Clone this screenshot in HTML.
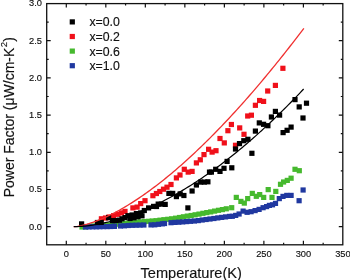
<!DOCTYPE html><html><head><meta charset="utf-8"><style>html,body{margin:0;padding:0;background:#fff;}svg{display:block;will-change:transform;}text{font-family:"Liberation Sans",sans-serif;fill:#111;stroke:#111;stroke-width:0.15px;}</style></head><body>
<svg width="350" height="280" viewBox="0 0 350 280">
<g fill="#46b92e"><rect x="79.4" y="224.4" width="5.2" height="5.2"/><rect x="83.3" y="224.1" width="5.2" height="5.2"/><rect x="87.2" y="223.8" width="5.2" height="5.2"/><rect x="91.1" y="223.4" width="5.2" height="5.2"/><rect x="95.0" y="223.1" width="5.2" height="5.2"/><rect x="98.9" y="222.8" width="5.2" height="5.2"/><rect x="102.8" y="222.5" width="5.2" height="5.2"/><rect x="106.7" y="222.2" width="5.2" height="5.2"/><rect x="110.6" y="221.9" width="5.2" height="5.2"/><rect x="114.5" y="221.6" width="5.2" height="5.2"/><rect x="118.4" y="221.3" width="5.2" height="5.2"/><rect x="122.3" y="220.8" width="5.2" height="5.2"/><rect x="126.2" y="220.4" width="5.2" height="5.2"/><rect x="130.1" y="220.0" width="5.2" height="5.2"/><rect x="134.0" y="219.6" width="5.2" height="5.2"/><rect x="137.9" y="219.3" width="5.2" height="5.2"/><rect x="141.8" y="219.0" width="5.2" height="5.2"/><rect x="145.7" y="218.7" width="5.2" height="5.2"/><rect x="149.6" y="218.4" width="5.2" height="5.2"/><rect x="153.5" y="218.1" width="5.2" height="5.2"/><rect x="157.4" y="217.6" width="5.2" height="5.2"/><rect x="161.3" y="217.1" width="5.2" height="5.2"/><rect x="165.2" y="216.7" width="5.2" height="5.2"/><rect x="169.1" y="216.2" width="5.2" height="5.2"/><rect x="173.0" y="215.6" width="5.2" height="5.2"/><rect x="176.9" y="214.9" width="5.2" height="5.2"/><rect x="180.8" y="214.2" width="5.2" height="5.2"/><rect x="184.7" y="213.5" width="5.2" height="5.2"/><rect x="188.6" y="212.9" width="5.2" height="5.2"/><rect x="192.5" y="212.2" width="5.2" height="5.2"/><rect x="196.4" y="211.5" width="5.2" height="5.2"/><rect x="200.3" y="210.7" width="5.2" height="5.2"/><rect x="204.2" y="210.0" width="5.2" height="5.2"/><rect x="208.1" y="209.3" width="5.2" height="5.2"/><rect x="212.0" y="208.5" width="5.2" height="5.2"/><rect x="215.9" y="207.7" width="5.2" height="5.2"/><rect x="219.8" y="207.0" width="5.2" height="5.2"/><rect x="223.7" y="206.2" width="5.2" height="5.2"/><rect x="229.1" y="205.1" width="5.2" height="5.2"/><rect x="233.7" y="194.8" width="5.2" height="5.2"/><rect x="238.3" y="198.8" width="5.2" height="5.2"/><rect x="241.7" y="200.5" width="5.2" height="5.2"/><rect x="245.1" y="196.0" width="5.2" height="5.2"/><rect x="249.7" y="190.8" width="5.2" height="5.2"/><rect x="253.7" y="193.7" width="5.2" height="5.2"/><rect x="257.1" y="192.0" width="5.2" height="5.2"/><rect x="261.1" y="194.8" width="5.2" height="5.2"/><rect x="265.6" y="187.0" width="5.2" height="5.2"/><rect x="269.4" y="194.8" width="5.2" height="5.2"/><rect x="273.2" y="188.8" width="5.2" height="5.2"/><rect x="277.9" y="181.7" width="5.2" height="5.2"/><rect x="281.0" y="179.4" width="5.2" height="5.2"/><rect x="284.7" y="177.8" width="5.2" height="5.2"/><rect x="288.5" y="175.6" width="5.2" height="5.2"/><rect x="292.4" y="166.7" width="5.2" height="5.2"/><rect x="296.7" y="168.1" width="5.2" height="5.2"/></g>
<g fill="#2038a0"><rect x="82.9" y="224.4" width="5.2" height="5.2"/><rect x="86.5" y="224.3" width="5.2" height="5.2"/><rect x="90.1" y="224.2" width="5.2" height="5.2"/><rect x="93.7" y="224.2" width="5.2" height="5.2"/><rect x="97.3" y="224.1" width="5.2" height="5.2"/><rect x="100.9" y="224.0" width="5.2" height="5.2"/><rect x="104.5" y="224.0" width="5.2" height="5.2"/><rect x="108.1" y="223.9" width="5.2" height="5.2"/><rect x="111.7" y="223.7" width="5.2" height="5.2"/><rect x="111.7" y="223.7" width="5.2" height="5.2"/><rect x="117.9" y="223.4" width="5.2" height="5.2"/><rect x="121.8" y="223.2" width="5.2" height="5.2"/><rect x="125.7" y="222.9" width="5.2" height="5.2"/><rect x="129.6" y="222.7" width="5.2" height="5.2"/><rect x="133.5" y="222.6" width="5.2" height="5.2"/><rect x="137.4" y="222.5" width="5.2" height="5.2"/><rect x="141.3" y="222.4" width="5.2" height="5.2"/><rect x="148.4" y="222.3" width="5.2" height="5.2"/><rect x="152.2" y="222.2" width="5.2" height="5.2"/><rect x="156.0" y="221.7" width="5.2" height="5.2"/><rect x="159.8" y="221.2" width="5.2" height="5.2"/><rect x="161.9" y="220.9" width="5.2" height="5.2"/><rect x="168.4" y="220.1" width="5.2" height="5.2"/><rect x="172.3" y="219.8" width="5.2" height="5.2"/><rect x="176.2" y="219.6" width="5.2" height="5.2"/><rect x="180.1" y="219.3" width="5.2" height="5.2"/><rect x="184.0" y="219.0" width="5.2" height="5.2"/><rect x="187.9" y="218.7" width="5.2" height="5.2"/><rect x="191.8" y="218.4" width="5.2" height="5.2"/><rect x="195.7" y="218.0" width="5.2" height="5.2"/><rect x="199.6" y="217.4" width="5.2" height="5.2"/><rect x="203.5" y="216.9" width="5.2" height="5.2"/><rect x="207.4" y="216.4" width="5.2" height="5.2"/><rect x="211.3" y="215.9" width="5.2" height="5.2"/><rect x="215.2" y="215.3" width="5.2" height="5.2"/><rect x="219.1" y="214.8" width="5.2" height="5.2"/><rect x="223.0" y="214.3" width="5.2" height="5.2"/><rect x="226.9" y="213.8" width="5.2" height="5.2"/><rect x="229.7" y="213.7" width="5.2" height="5.2"/><rect x="233.1" y="212.8" width="5.2" height="5.2"/><rect x="236.5" y="211.4" width="5.2" height="5.2"/><rect x="240.5" y="208.5" width="5.2" height="5.2"/><rect x="244.5" y="209.7" width="5.2" height="5.2"/><rect x="248.5" y="209.1" width="5.2" height="5.2"/><rect x="252.5" y="208.0" width="5.2" height="5.2"/><rect x="256.5" y="206.8" width="5.2" height="5.2"/><rect x="260.5" y="205.1" width="5.2" height="5.2"/><rect x="264.0" y="204.0" width="5.2" height="5.2"/><rect x="266.8" y="202.8" width="5.2" height="5.2"/><rect x="269.9" y="202.2" width="5.2" height="5.2"/><rect x="272.9" y="200.8" width="5.2" height="5.2"/><rect x="276.7" y="196.0" width="5.2" height="5.2"/><rect x="280.4" y="193.8" width="5.2" height="5.2"/><rect x="284.2" y="192.8" width="5.2" height="5.2"/><rect x="288.5" y="192.8" width="5.2" height="5.2"/><rect x="296.5" y="198.1" width="5.2" height="5.2"/><rect x="300.5" y="187.4" width="5.2" height="5.2"/></g>
<g fill="#f0101a"><rect x="98.8" y="216.2" width="5.2" height="5.2"/><rect x="102.9" y="215.4" width="5.2" height="5.2"/><rect x="106.4" y="214.4" width="5.2" height="5.2"/><rect x="111.0" y="213.1" width="5.2" height="5.2"/><rect x="115.3" y="211.7" width="5.2" height="5.2"/><rect x="118.8" y="210.3" width="5.2" height="5.2"/><rect x="122.4" y="208.8" width="5.2" height="5.2"/><rect x="130.3" y="205.3" width="5.2" height="5.2"/><rect x="134.5" y="204.5" width="5.2" height="5.2"/><rect x="138.1" y="201.0" width="5.2" height="5.2"/><rect x="142.4" y="198.1" width="5.2" height="5.2"/><rect x="150.3" y="193.1" width="5.2" height="5.2"/><rect x="153.8" y="190.9" width="5.2" height="5.2"/><rect x="157.2" y="188.9" width="5.2" height="5.2"/><rect x="160.9" y="186.6" width="5.2" height="5.2"/><rect x="164.4" y="184.6" width="5.2" height="5.2"/><rect x="168.4" y="181.9" width="5.2" height="5.2"/><rect x="173.8" y="175.3" width="5.2" height="5.2"/><rect x="177.4" y="172.4" width="5.2" height="5.2"/><rect x="181.7" y="166.7" width="5.2" height="5.2"/><rect x="185.6" y="169.5" width="5.2" height="5.2"/><rect x="189.5" y="168.8" width="5.2" height="5.2"/><rect x="193.8" y="160.3" width="5.2" height="5.2"/><rect x="197.7" y="157.2" width="5.2" height="5.2"/><rect x="201.4" y="152.0" width="5.2" height="5.2"/><rect x="206.0" y="146.7" width="5.2" height="5.2"/><rect x="209.5" y="149.5" width="5.2" height="5.2"/><rect x="213.4" y="148.1" width="5.2" height="5.2"/><rect x="217.4" y="135.9" width="5.2" height="5.2"/><rect x="221.7" y="140.3" width="5.2" height="5.2"/><rect x="225.3" y="128.1" width="5.2" height="5.2"/><rect x="228.8" y="121.9" width="5.2" height="5.2"/><rect x="232.9" y="142.7" width="5.2" height="5.2"/><rect x="237.1" y="125.3" width="5.2" height="5.2"/><rect x="241.4" y="131.7" width="5.2" height="5.2"/><rect x="245.1" y="113.4" width="5.2" height="5.2"/><rect x="248.8" y="112.6" width="5.2" height="5.2"/><rect x="252.8" y="102.7" width="5.2" height="5.2"/><rect x="257.0" y="97.9" width="5.2" height="5.2"/><rect x="261.0" y="98.8" width="5.2" height="5.2"/><rect x="265.1" y="88.4" width="5.2" height="5.2"/><rect x="272.8" y="82.8" width="5.2" height="5.2"/><rect x="280.3" y="65.7" width="5.2" height="5.2"/></g>
<g fill="#000"><rect x="79.0" y="221.3" width="5.2" height="5.2"/><rect x="94.8" y="219.9" width="5.2" height="5.2"/><rect x="98.6" y="219.8" width="5.2" height="5.2"/><rect x="106.0" y="215.1" width="5.2" height="5.2"/><rect x="109.9" y="218.0" width="5.2" height="5.2"/><rect x="113.4" y="217.9" width="5.2" height="5.2"/><rect x="116.9" y="217.6" width="5.2" height="5.2"/><rect x="119.4" y="216.2" width="5.2" height="5.2"/><rect x="122.4" y="215.0" width="5.2" height="5.2"/><rect x="125.3" y="213.1" width="5.2" height="5.2"/><rect x="129.5" y="212.4" width="5.2" height="5.2"/><rect x="133.8" y="211.0" width="5.2" height="5.2"/><rect x="138.1" y="210.3" width="5.2" height="5.2"/><rect x="141.7" y="207.9" width="5.2" height="5.2"/><rect x="127.4" y="215.9" width="5.2" height="5.2"/><rect x="131.4" y="215.2" width="5.2" height="5.2"/><rect x="135.4" y="214.2" width="5.2" height="5.2"/><rect x="139.4" y="213.2" width="5.2" height="5.2"/><rect x="146.0" y="205.3" width="5.2" height="5.2"/><rect x="151.0" y="203.8" width="5.2" height="5.2"/><rect x="153.9" y="203.9" width="5.2" height="5.2"/><rect x="155.6" y="201.5" width="5.2" height="5.2"/><rect x="158.8" y="201.5" width="5.2" height="5.2"/><rect x="162.6" y="201.8" width="5.2" height="5.2"/><rect x="166.3" y="190.8" width="5.2" height="5.2"/><rect x="170.1" y="190.8" width="5.2" height="5.2"/><rect x="173.8" y="194.0" width="5.2" height="5.2"/><rect x="177.6" y="191.3" width="5.2" height="5.2"/><rect x="181.3" y="192.9" width="5.2" height="5.2"/><rect x="185.3" y="205.3" width="5.2" height="5.2"/><rect x="189.5" y="188.4" width="5.2" height="5.2"/><rect x="193.8" y="182.4" width="5.2" height="5.2"/><rect x="198.1" y="179.5" width="5.2" height="5.2"/><rect x="201.7" y="179.5" width="5.2" height="5.2"/><rect x="205.3" y="179.2" width="5.2" height="5.2"/><rect x="206.9" y="169.5" width="5.2" height="5.2"/><rect x="208.8" y="169.5" width="5.2" height="5.2"/><rect x="213.1" y="166.7" width="5.2" height="5.2"/><rect x="217.4" y="168.8" width="5.2" height="5.2"/><rect x="221.4" y="165.7" width="5.2" height="5.2"/><rect x="224.5" y="158.8" width="5.2" height="5.2"/><rect x="229.2" y="165.2" width="5.2" height="5.2"/><rect x="232.9" y="146.4" width="5.2" height="5.2"/><rect x="236.9" y="141.0" width="5.2" height="5.2"/><rect x="241.2" y="138.1" width="5.2" height="5.2"/><rect x="245.3" y="136.7" width="5.2" height="5.2"/><rect x="249.3" y="150.7" width="5.2" height="5.2"/><rect x="252.8" y="128.5" width="5.2" height="5.2"/><rect x="256.7" y="120.3" width="5.2" height="5.2"/><rect x="261.0" y="121.7" width="5.2" height="5.2"/><rect x="265.3" y="123.1" width="5.2" height="5.2"/><rect x="268.8" y="114.4" width="5.2" height="5.2"/><rect x="272.8" y="108.8" width="5.2" height="5.2"/><rect x="277.0" y="112.5" width="5.2" height="5.2"/><rect x="280.5" y="130.0" width="5.2" height="5.2"/><rect x="284.5" y="127.7" width="5.2" height="5.2"/><rect x="288.5" y="124.5" width="5.2" height="5.2"/><rect x="292.4" y="97.0" width="5.2" height="5.2"/><rect x="296.6" y="104.3" width="5.2" height="5.2"/><rect x="300.4" y="115.4" width="5.2" height="5.2"/><rect x="303.9" y="100.6" width="5.2" height="5.2"/></g>
<polyline points="73.73,226.70 75.65,226.57 77.56,226.33 79.48,226.01 81.40,225.63 83.32,225.19 85.24,224.71 87.15,224.18 89.07,223.60 90.99,222.99 92.91,222.34 94.83,221.65 96.74,220.92 98.66,220.17 100.58,219.38 102.50,218.56 104.42,217.72 106.33,216.84 108.25,215.93 110.17,215.00 112.09,214.04 114.00,213.06 115.92,212.05 117.84,211.01 119.76,209.95 121.68,208.87 123.59,207.76 125.51,206.63 127.43,205.48 129.35,204.30 131.27,203.10 133.18,201.89 135.10,200.65 137.02,199.38 138.94,198.10 140.85,196.80 142.77,195.48 144.69,194.14 146.61,192.77 148.53,191.39 150.44,189.99 152.36,188.58 154.28,187.14 156.20,185.68 158.12,184.21 160.03,182.71 161.95,181.20 163.87,179.68 165.79,178.13 167.71,176.57 169.62,174.99 171.54,173.39 173.46,171.78 175.38,170.15 177.29,168.50 179.21,166.84 181.13,165.16 183.05,163.46 184.97,161.75 186.88,160.02 188.80,158.28 190.72,156.52 192.64,154.74 194.56,152.95 196.47,151.14 198.39,149.32 200.31,147.49 202.23,145.64 204.14,143.77 206.06,141.89 207.98,139.99 209.90,138.09 211.82,136.16 213.73,134.22 215.65,132.27 217.57,130.30 219.49,128.32 221.41,126.33 223.32,124.32 225.24,122.29 227.16,120.26 229.08,118.21 230.99,116.14 232.91,114.06 234.83,111.97 236.75,109.87 238.67,107.75 240.58,105.62 242.50,103.47 244.42,101.32 246.34,99.15 248.26,96.96 250.17,94.77 252.09,92.56 254.01,90.34 255.93,88.10 257.85,85.85 259.76,83.59 261.68,81.32 263.60,79.04 265.52,76.74 267.43,74.43 269.35,72.11 271.27,69.78 273.19,67.43 275.11,65.07 277.02,62.70 278.94,60.32 280.86,57.92 282.78,55.52 284.70,53.10 286.61,50.67 288.53,48.23 290.45,45.77 292.37,43.31 294.28,40.83 296.20,38.34 298.12,35.84 300.04,33.33 301.96,30.81 303.87,28.28" fill="none" stroke="#f03030" stroke-width="1.3"/>
<polyline points="73.73,226.70 75.65,226.67 77.56,226.61 79.48,226.51 81.39,226.38 83.31,226.22 85.22,226.04 87.14,225.83 89.06,225.59 90.97,225.33 92.89,225.05 94.80,224.75 96.72,224.42 98.64,224.07 100.55,223.70 102.47,223.31 104.38,222.89 106.30,222.46 108.22,222.01 110.13,221.53 112.05,221.04 113.96,220.52 115.88,219.99 117.79,219.44 119.71,218.86 121.63,218.27 123.54,217.66 125.46,217.03 127.37,216.39 129.29,215.72 131.21,215.04 133.12,214.34 135.04,213.62 136.95,212.88 138.87,212.13 140.79,211.36 142.70,210.57 144.62,209.76 146.53,208.94 148.45,208.09 150.37,207.24 152.28,206.36 154.20,205.47 156.11,204.56 158.03,203.64 159.94,202.69 161.86,201.74 163.78,200.76 165.69,199.77 167.61,198.76 169.52,197.74 171.44,196.70 173.36,195.64 175.27,194.57 177.19,193.48 179.10,192.38 181.02,191.26 182.94,190.13 184.85,188.98 186.77,187.81 188.68,186.63 190.60,185.43 192.51,184.22 194.43,182.99 196.35,181.75 198.26,180.49 200.18,179.21 202.09,177.93 204.01,176.62 205.93,175.30 207.84,173.97 209.76,172.62 211.67,171.25 213.59,169.88 215.51,168.48 217.42,167.07 219.34,165.65 221.25,164.21 223.17,162.76 225.09,161.29 227.00,159.81 228.92,158.31 230.83,156.80 232.75,155.28 234.66,153.74 236.58,152.18 238.50,150.61 240.41,149.03 242.33,147.44 244.24,145.82 246.16,144.20 248.08,142.56 249.99,140.90 251.91,139.24 253.82,137.55 255.74,135.86 257.66,134.15 259.57,132.42 261.49,130.69 263.40,128.93 265.32,127.17 267.24,125.39 269.15,123.60 271.07,121.79 272.98,119.97 274.90,118.13 276.81,116.29 278.73,114.42 280.65,112.55 282.56,110.66 284.48,108.76 286.39,106.84 288.31,104.91 290.23,102.97 292.14,101.01 294.06,99.04 295.97,97.05 297.89,95.06 299.81,93.05 301.72,91.02 303.64,88.99" fill="none" stroke="#000" stroke-width="1.2"/>
<rect x="46.7" y="3.6" width="296.1" height="241.20000000000002" fill="none" stroke="#111" stroke-width="1.3"/>
<path d="M66.30,244.8v-4M66.30,3.6v4M86.06,244.8v-2M86.06,3.6v2M105.82,244.8v-4M105.82,3.6v4M125.57,244.8v-2M125.57,3.6v2M145.33,244.8v-4M145.33,3.6v4M165.09,244.8v-2M165.09,3.6v2M184.85,244.8v-4M184.85,3.6v4M204.61,244.8v-2M204.61,3.6v2M224.37,244.8v-4M224.37,3.6v4M244.12,244.8v-2M244.12,3.6v2M263.88,244.8v-4M263.88,3.6v4M283.64,244.8v-2M283.64,3.6v2M303.40,244.8v-4M303.40,3.6v4M323.16,244.8v-2M323.16,3.6v2M46.7,226.70h4M342.8,226.70h-4M46.7,208.10h2M342.8,208.10h-2M46.7,189.50h4M342.8,189.50h-4M46.7,170.90h2M342.8,170.90h-2M46.7,152.30h4M342.8,152.30h-4M46.7,133.70h2M342.8,133.70h-2M46.7,115.10h4M342.8,115.10h-4M46.7,96.50h2M342.8,96.50h-2M46.7,77.90h4M342.8,77.90h-4M46.7,59.30h2M342.8,59.30h-2M46.7,40.70h4M342.8,40.70h-4M46.7,22.10h2M342.8,22.10h-2" stroke="#111" stroke-width="1.2" fill="none"/>
<text transform="translate(66.30,257.3) scale(0.97,1.0)" font-size="9.6" text-anchor="middle">0</text>
<text transform="translate(105.82,257.3) scale(0.97,1.0)" font-size="9.6" text-anchor="middle">50</text>
<text transform="translate(145.33,257.3) scale(0.97,1.0)" font-size="9.6" text-anchor="middle">100</text>
<text transform="translate(184.85,257.3) scale(0.97,1.0)" font-size="9.6" text-anchor="middle">150</text>
<text transform="translate(224.37,257.3) scale(0.97,1.0)" font-size="9.6" text-anchor="middle">200</text>
<text transform="translate(263.88,257.3) scale(0.97,1.0)" font-size="9.6" text-anchor="middle">250</text>
<text transform="translate(303.40,257.3) scale(0.97,1.0)" font-size="9.6" text-anchor="middle">300</text>
<text transform="translate(342.92,257.3) scale(0.97,1.0)" font-size="9.6" text-anchor="middle">350</text>
<text transform="translate(41.9,229.50) scale(0.97,1.03)" font-size="9.6" text-anchor="end">0.0</text>
<text transform="translate(41.9,192.30) scale(0.97,1.03)" font-size="9.6" text-anchor="end">0.5</text>
<text transform="translate(41.9,155.10) scale(0.97,1.03)" font-size="9.6" text-anchor="end">1.0</text>
<text transform="translate(41.9,117.90) scale(0.97,1.03)" font-size="9.6" text-anchor="end">1.5</text>
<text transform="translate(41.9,80.70) scale(0.97,1.03)" font-size="9.6" text-anchor="end">2.0</text>
<text transform="translate(41.9,43.50) scale(0.97,1.03)" font-size="9.6" text-anchor="end">2.5</text>
<text transform="translate(41.9,6.30) scale(0.97,1.03)" font-size="9.6" text-anchor="end">3.0</text>
<text x="191.2" y="277.5" font-size="14.6" text-anchor="middle">Temperature(K)</text>
<text transform="translate(14.3,197.3) rotate(-90)" font-size="14.0">Power Factor (μW/cm-K<tspan dx="0.3" dy="-7" font-size="9.6">2</tspan><tspan dx="0.4" dy="7">)</tspan></text>
<rect x="69.7" y="19.3" width="5.2" height="5.2" fill="#000"/>
<text x="89.4" y="26.3" font-size="12.3">x=0.0</text>
<rect x="69.7" y="33.9" width="5.2" height="5.2" fill="#f0101a"/>
<text x="89.4" y="40.9" font-size="12.3">x=0.2</text>
<rect x="69.7" y="48.5" width="5.2" height="5.2" fill="#46b92e"/>
<text x="89.4" y="55.5" font-size="12.3">x=0.6</text>
<rect x="69.7" y="63.1" width="5.2" height="5.2" fill="#2038a0"/>
<text x="89.4" y="70.1" font-size="12.3">x=1.0</text>
</svg></body></html>
